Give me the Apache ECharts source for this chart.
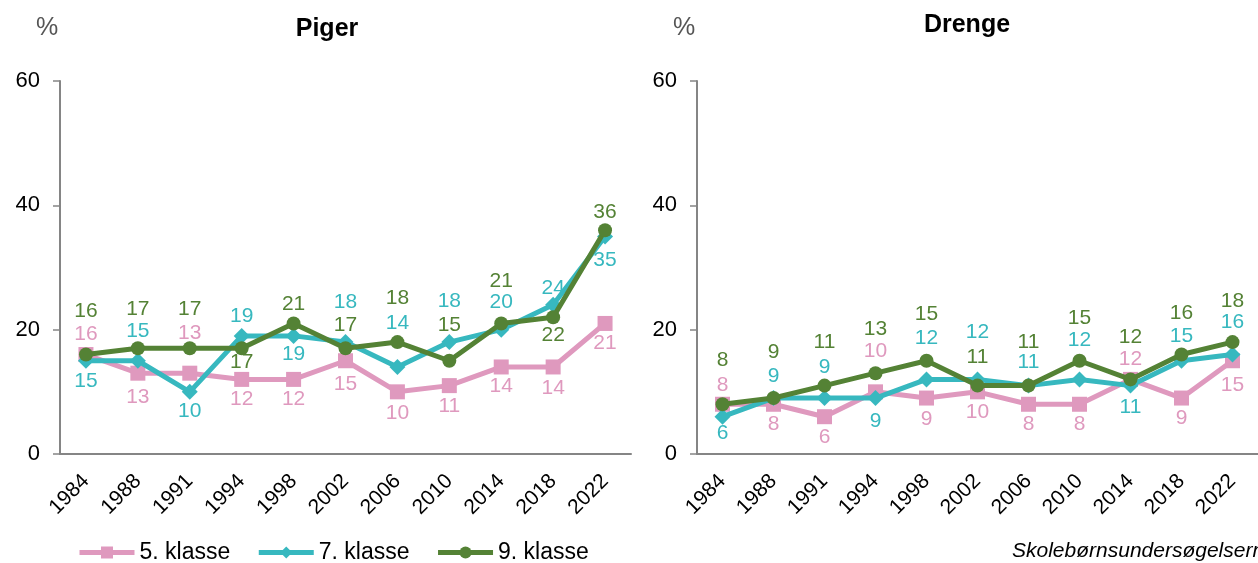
<!DOCTYPE html>
<html>
<head>
<meta charset="utf-8">
<script src="https://cdn.jsdelivr.net/npm/echarts@6/dist/echarts.min.js"></script>
<style>
  html, body { margin: 0; padding: 0; background: #fff; }
  #chart { width: 1258px; height: 563px; }
</style>
</head>
<body>
<div id="chart"></div>
<script>
// år
const years = ['1984', '1988', '1991', '1994', '1998', '2002', '2006', '2010', '2014', '2018', '2022'];
const seriesNames = ['5. klasse', '7. klasse', '9. klasse'];

// Piger
const piger5 = [16, 13, 13, 12, 12, 15, 10, 11, 14, 14, 21];
const piger7 = [15, 15, 10, 19, 19, 18, 14, 18, 20, 24, 35];
const piger9 = [16, 17, 17, 17, 21, 17, 18, 15, 21, 22, 36];

// Drenge
const drenge5 = [8, 8, 6, 10, 9, 10, 8, 8, 12, 9, 15];
const drenge7 = [6, 9, 9, 9, 12, 12, 11, 12, 11, 15, 16];
const drenge9 = [8, 9, 11, 13, 15, 11, 11, 15, 12, 16, 18];

// label-forskydning (px, lodret) pr. punkt
const pigerOff5 = [-20, 24, -40, 20, 20, 23, 21, 21, 19, 21, 20];
const pigerOff7 = [20, -30, 19, -20, 18, -40, -44, -41, -27, -17, 24];
const pigerOff9 = [-43, -39, -39, 14, -19, -23, -44, -36, -42, 18, -18];
const drengeOff5 = [-19, 20, 21, -41, 21, 20, 20, 20, -20, 20, 24];
const drengeOff7 = [17, -22, -31, 23, -41, -47, -23, -39, 22, -25, -32];
const drengeOff9 = [-44, -46, -43, -44, -47, -28, -43, -43, -42, -41, -41];

const colors = ['#DF99BE', '#37B8BF', '#548235'];
const symbols = ['rect', 'diamond', 'circle'];
const symbolSizes = [15, 16, 14];
const font = 'Liberation Sans, Arial, sans-serif';

function makeSeries (name, idx, values, offsets, axisIndex) {
  return {
    name: name,
    type: 'line',
    xAxisIndex: axisIndex,
    yAxisIndex: axisIndex,
    data: values.map((v, i) => ({
      value: v,
      label: { offset: [0, offsets[i]] }
    })),
    symbol: symbols[idx],
    symbolSize: symbolSizes[idx],
    showAllSymbol: true,
    lineStyle: { color: colors[idx], width: 5 },
    itemStyle: { color: colors[idx] },
    z: 2 + idx,
    animation: false,
    label: {
      show: true,
      position: 'inside',
      color: colors[idx],
      fontSize: 21,
      fontFamily: font
    }
  };
}

function makeX (gridIndex) {
  return {
    type: 'category',
    gridIndex: gridIndex,
    data: years,
    boundaryGap: true,
    axisLine: { lineStyle: { color: '#858585', width: 2 } },
    axisTick: { alignWithLabel: true, length: 6, lineStyle: { color: '#858585', width: 1.5 } },
    axisLabel: { rotate: 45, fontSize: 21, color: '#000', fontFamily: font, margin: 24, interval: 0 }
  };
}

function makeY (gridIndex) {
  return {
    type: 'value',
    gridIndex: gridIndex,
    min: 0,
    max: 60,
    interval: 20,
    splitLine: { show: false },
    axisLine: { show: true, lineStyle: { color: '#858585', width: 2 } },
    axisTick: { show: true, length: 7, lineStyle: { color: '#858585', width: 1.5 } },
    axisLabel: { fontSize: 22, color: '#000', fontFamily: font, margin: 20 }
  };
}

const chart = echarts.init(document.getElementById('chart'));
chart.setOption({
  backgroundColor: '#fff',
  animation: false,
  title: [
    { text: 'Piger', left: 322, top: 12, textAlign: 'center',
      textStyle: { fontSize: 25, fontWeight: 'bold', color: '#000', fontFamily: font } },
    { text: 'Drenge', left: 962, top: 8, textAlign: 'center',
      textStyle: { fontSize: 25, fontWeight: 'bold', color: '#000', fontFamily: font } },
    { text: '%', left: 31, top: 11,
      textStyle: { fontSize: 25, fontWeight: 'normal', color: '#555', fontFamily: font } },
    { text: '%', left: 668, top: 11,
      textStyle: { fontSize: 25, fontWeight: 'normal', color: '#555', fontFamily: font } }
  ],
  legend: {
    data: seriesNames,
    left: 77,
    top: 541,
    padding: 0,
    itemWidth: 55,
    itemHeight: 15,
    itemGap: 26,
    lineStyle: { width: 5 },
    textStyle: { fontSize: 23, color: '#000', fontFamily: font }
  },
  graphic: [
    {
      type: 'text',
      left: 1012,
      top: 541,
      style: { text: 'Skolebørnsundersøgelserne', font: 'italic 21px Liberation Sans, Arial, sans-serif', fill: '#000' }
    }
  ],
  grid: [
    { left: 60, top: 81, width: 571, height: 373 },
    { left: 697, top: 81, width: 571, height: 373 }
  ],
  xAxis: [makeX(0), makeX(1)],
  yAxis: [makeY(0), makeY(1)],
  series: [
    makeSeries(seriesNames[0], 0, piger5, pigerOff5, 0),
    makeSeries(seriesNames[1], 1, piger7, pigerOff7, 0),
    makeSeries(seriesNames[2], 2, piger9, pigerOff9, 0),
    makeSeries(seriesNames[0], 0, drenge5, drengeOff5, 1),
    makeSeries(seriesNames[1], 1, drenge7, drengeOff7, 1),
    makeSeries(seriesNames[2], 2, drenge9, drengeOff9, 1)
  ]
});
</script>
</body>
</html>
